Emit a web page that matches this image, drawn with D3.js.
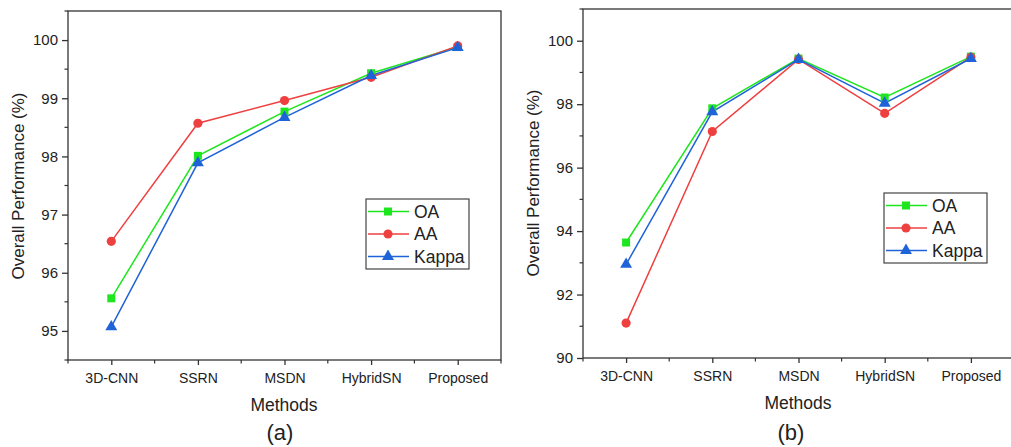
<!DOCTYPE html>
<html>
<head>
<meta charset="utf-8">
<script src="https://cdn.jsdelivr.net/npm/d3@7/dist/d3.min.js"></script>
<style>
    body { margin: 0; background: #fff; }
    svg { display: block; }
    text { font-family: "Liberation Sans", Arial, sans-serif; fill: #222; }
</style>
</head>
<body>
<svg id="chart" width="1011" height="447"></svg>
<script>

// categories and series
const methods = ['3D-CNN', 'SSRN', 'MSDN', 'HybridSN', 'Proposed'];
const seriesNames = ['OA', 'AA', 'Kappa'];

// panel (a)
const oaA = [95.56, 98.01, 98.77, 99.43, 99.88];
const aaA = [96.54, 98.57, 98.96, 99.36, 99.90];
const kappaA = [95.07, 97.89, 98.67, 99.39, 99.87];
const ticksA = [95, 96, 97, 98, 99, 100];

// panel (b)
const oaB = [93.64, 97.87, 99.44, 98.21, 99.50];
const aaB = [91.10, 97.14, 99.41, 97.71, 99.48];
const kappaB = [92.95, 97.76, 99.41, 98.03, 99.44];
const ticksB = [90, 92, 94, 96, 98, 100];

const colors = {OA: '#1ee61e', AA: '#ef4040', Kappa: '#1f63d8'};

const svg = d3.select('#chart');

function panel (opt) {

    const g = svg.append('g');

    let x = d3.scalePoint()
        .domain(methods)
        .range([opt.left, opt.right])
        .padding(0.5);

    let y = d3.scaleLinear()
        .domain(opt.domain)
        .range([opt.bottom, opt.top]);

    // frame
    g.append('rect')
        .attr('x', opt.left)
        .attr('y', opt.top)
        .attr('width', opt.right - opt.left)
        .attr('height', opt.bottom - opt.top)
        .attr('fill', 'none')
        .attr('stroke', '#333')
        .attr('stroke-width', 1.3);

    // y axis, major + minor ticks
    const yAxis = g.append('g')
        .attr('transform', 'translate(' + opt.left + ',0)')
        .call(d3.axisLeft(y).tickValues(opt.ticks).tickSize(6).tickPadding(4).tickFormat(d3.format('d')));
    yAxis.select('.domain').remove();
    yAxis.selectAll('.tick line').attr('stroke', '#333').attr('stroke-width', 1.3);
    yAxis.selectAll('.tick text')
        .style('font-size', '15px')
        .style('font-family', '"Liberation Sans", Arial, sans-serif')
        .attr('fill', '#222');

    g.append('g')
        .selectAll('line')
        .data(opt.minor)
        .join('line')
        .attr('x1', opt.left - 3.5)
        .attr('x2', opt.left)
        .attr('y1', y)
        .attr('y2', y)
        .attr('stroke', '#333')
        .attr('stroke-width', 1.2);

    // x axis
    const xAxis = g.append('g')
        .attr('transform', 'translate(0,' + opt.bottom + ')')
        .call(d3.axisBottom(x).tickSize(5).tickPadding(8));
    xAxis.select('.domain').remove();
    xAxis.selectAll('.tick line').attr('stroke', '#333').attr('stroke-width', 1.3);
    xAxis.selectAll('.tick text')
        .style('font-size', '14px')
        .style('font-family', '"Liberation Sans", Arial, sans-serif')
        .attr('fill', '#222');

    const step = x.step();
    const edges = d3.range(methods.length + 1).map(function (i) {
        return opt.left + i * step;
    });
    g.append('g')
        .selectAll('line')
        .data(edges)
        .join('line')
        .attr('x1', function (d) { return d; })
        .attr('x2', function (d) { return d; })
        .attr('y1', opt.bottom)
        .attr('y2', opt.bottom + 3.5)
        .attr('stroke', '#333')
        .attr('stroke-width', 1.2);

    // series
    const line = d3.line()
        .x(function (d, i) { return x(methods[i]); })
        .y(function (d) { return y(d); });

    opt.series.forEach(function (values, k) {
        const name = seriesNames[k];
        g.append('path')
            .datum(values)
            .attr('d', line)
            .attr('fill', 'none')
            .attr('stroke', colors[name])
            .attr('stroke-width', 1.5);
    });

    opt.series.forEach(function (values, k) {
        const name = seriesNames[k];
        g.append('g')
            .selectAll('path')
            .data(values)
            .join('path')
            .attr('transform', function (d, i) {
                return 'translate(' + x(methods[i]) + ',' + y(d) + ')';
            })
            .attr('d', marker(name))
            .attr('fill', colors[name]);
    });

    // legend
    const lg = g.append('g')
        .attr('transform', 'translate(' + opt.legend[0] + ',' + opt.legend[1] + ')');
    lg.append('rect')
        .attr('width', 103)
        .attr('height', 70)
        .attr('fill', '#fff')
        .attr('stroke', '#444')
        .attr('stroke-width', 1.2);
    seriesNames.forEach(function (name, k) {
        const ly = 12.5 + k * 22.5;
        lg.append('line')
            .attr('x1', 2).attr('x2', 43)
            .attr('y1', ly).attr('y2', ly)
            .attr('stroke', colors[name])
            .attr('stroke-width', 1.5);
        lg.append('path')
            .attr('transform', 'translate(22,' + ly + ')')
            .attr('d', marker(name))
            .attr('fill', colors[name]);
        lg.append('text')
            .attr('x', 48)
            .attr('y', ly)
            .attr('dy', '0.36em')
            .style('font-size', '17.5px')
            .text(name);
    });

    // titles
    g.append('text')
        .attr('transform', 'translate(' + opt.yTitle[0] + ',' + opt.yTitle[1] + ') rotate(-90)')
        .attr('text-anchor', 'middle')
        .attr('dy', '0.36em')
        .style('font-size', '17px')
        .text('Overall Performance (%)');

    g.append('text')
        .attr('x', opt.xTitle[0])
        .attr('y', opt.xTitle[1])
        .attr('text-anchor', 'middle')
        .attr('dy', '0.36em')
        .style('font-size', '17.5px')
        .text('Methods');

    g.append('text')
        .attr('x', opt.caption[0])
        .attr('y', opt.caption[1])
        .attr('text-anchor', 'middle')
        .attr('dy', '0.36em')
        .style('font-size', '22px')
        .text(opt.label);
}

function marker (name) {
    if (name === 'OA') return d3.symbol(d3.symbolSquare, 64)();
    if (name === 'AA') return d3.symbol(d3.symbolCircle, 66)();
    return d3.symbol(d3.symbolTriangle, 62)();
}

panel({
    left: 68, right: 501, top: 11, bottom: 360,
    domain: [94.5, 100.5],
    ticks: ticksA,
    minor: [94.5, 95.5, 96.5, 97.5, 98.5, 99.5, 100.5],
    series: [oaA, aaA, kappaA],
    legend: [366, 199],
    yTitle: [18, 186],
    xTitle: [284, 405],
    caption: [280, 432],
    label: '(a)'
});

panel({
    left: 583, right: 1014, top: 9, bottom: 358,
    domain: [90, 101],
    ticks: ticksB,
    minor: [91, 93, 95, 97, 99, 101],
    series: [oaB, aaB, kappaB],
    legend: [884, 193],
    yTitle: [533, 183],
    xTitle: [798, 403],
    caption: [791, 432],
    label: '(b)'
});

</script>
</body>
</html>
